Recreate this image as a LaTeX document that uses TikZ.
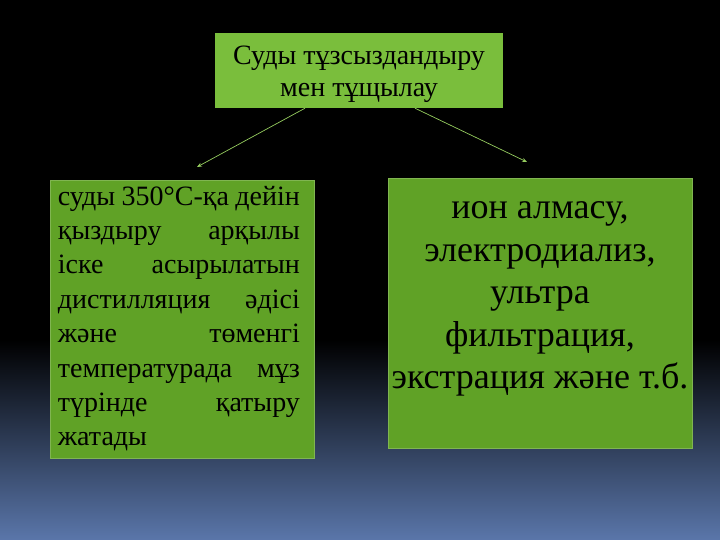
\documentclass[tikz,border=0pt]{standalone}
\usepackage{fontspec}
\setmainfont{Liberation Serif}
\usetikzlibrary{arrows.meta,calc}

\definecolor{topgreen}{RGB}{122,190,60}
\definecolor{boxgreen}{RGB}{96,162,38}
\definecolor{linkgreen}{RGB}{150,205,95}
\definecolor{bgblue}{RGB}{90,118,170}

\tikzset{
  headbox/.style={fill=topgreen,minimum width=288pt,minimum height=75pt,inner sep=0pt},
  sidebox/.style={fill=boxgreen,draw=boxgreen!80!white,line width=0.6pt,inner sep=0pt},
  link/.style={draw=linkgreen,line width=0.7pt,-{Stealth[length=5pt,width=4pt]}}
}

\begin{document}
\begin{tikzpicture}[x=1pt,y=-1pt]
\useasboundingbox (0,0) rectangle (720,540);

% background
\fill[black] (0,0) rectangle (720,540);
\shade[top color=black,bottom color=bgblue] (0,340) rectangle (720,540);

% top box
\node[headbox] (head) at (359,70.5) {};
\node[align=center,inner sep=0pt,font=\fontsize{28}{32}\selectfont] (headtext)
  at ($(head.center)+(0,4)$) {Суды тұзсыздандыру\\мен тұщылау};

% side boxes
\node[sidebox,minimum width=264pt,minimum height=278pt] (left) at (182,319) {};
\node[sidebox,minimum width=304pt,minimum height=270pt] (right) at (540,313) {};

\node[anchor=north west,inner sep=0pt,align=left,font=\fontsize{28}{34.4}\selectfont] (lefttext)
  at ($(left.north west)+(8,6)$)
  {\makebox[242pt][s]{суды 350°С-қа дейін}\\
   \makebox[242pt]{қыздыру\hfill арқылы}\\
   \makebox[242pt]{іске\hfill асырылатын}\\
   \makebox[242pt]{дистилляция\hfill әдісі}\\
   \makebox[242pt]{және\hfill төменгі}\\
   \makebox[242pt]{температурада\hfill мұз}\\
   \makebox[242pt]{түрінде\hfill қатыру}\\
   \makebox[242pt][l]{жатады}};

\node[anchor=north,inner sep=0pt,align=center,font=\fontsize{36}{42.5}\selectfont] (righttext)
  at ($(right.north)+(0,24)$)
  {ион алмасу,\\электродиализ,\\ультра\\фильтрация,\\экстрация және т.б.};

% links
\coordinate (leftend) at (197,167);
\coordinate (rightend) at (527,162);
\draw[link] ([xshift=-54pt]head.south) -- (leftend);
\draw[link] ([xshift=56pt]head.south) -- (rightend);
\end{tikzpicture}
\end{document}
